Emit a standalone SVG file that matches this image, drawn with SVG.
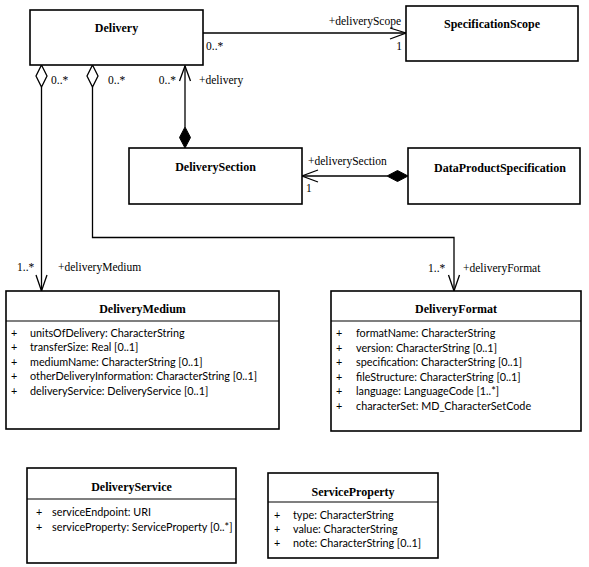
<svg xmlns="http://www.w3.org/2000/svg" width="589" height="567" viewBox="0 0 589 567">
<style>
.box{fill:#fff;stroke:#000;stroke-width:1.6}
.sep{stroke:#000;stroke-width:1.2}
.title{font-family:"Liberation Serif","DejaVu Serif",serif;font-weight:bold;font-size:12px;text-anchor:middle;fill:#000}
.attr{font-family:Lato,"Liberation Sans",sans-serif;font-size:10.8px;fill:#000}
.lbl{font-family:"Liberation Serif","DejaVu Serif",serif;font-size:11.5px;fill:#000}
.line{fill:none;stroke:#000;stroke-width:1.3}
.open{fill:none;stroke:#000;stroke-width:1.3}
.hd{fill:#fff;stroke:#000;stroke-width:1.3}
.fd{fill:#000;stroke:#000;stroke-width:1}
</style>
<g id="connectors">
  <!-- Delivery -> SpecificationScope -->
  <line class="line" x1="203" y1="33" x2="406" y2="33"/>
  <polyline class="open" points="390,28 406,33 390,39"/>
  <text class="lbl" x="401" y="25" text-anchor="end">+deliveryScope</text>
  <text class="lbl" x="402" y="50" text-anchor="end">1</text>
  <text class="lbl" x="206" y="50">0..*</text>
  <!-- Delivery -> DeliveryMedium -->
  <polygon class="hd" points="41.5,65 47,76 41.5,87 36,76"/>
  <line class="line" x1="41.5" y1="87" x2="41.5" y2="291"/>
  <polyline class="open" points="36,275 41.5,291 47,275"/>
  <text class="lbl" x="51" y="84">0..*</text>
  <text class="lbl" x="17" y="271">1..*</text>
  <text class="lbl" x="58" y="271">+deliveryMedium</text>
  <!-- Delivery -> DeliveryFormat -->
  <polygon class="hd" points="92.5,65 98,76 92.5,87 87,76"/>
  <polyline class="line" points="92.5,87 92.5,237.5 454,237.5 454,291"/>
  <polyline class="open" points="448.5,275 454,291 459.5,275"/>
  <text class="lbl" x="108" y="84">0..*</text>
  <text class="lbl" x="428" y="272">1..*</text>
  <text class="lbl" x="463" y="272">+deliveryFormat</text>
  <!-- DeliverySection -> Delivery -->
  <line class="line" x1="185" y1="66" x2="185" y2="127"/>
  <polyline class="open" points="179.5,81 185,66 190.5,81"/>
  <polygon class="fd" points="185,127 190.5,137.5 185,148 179.5,137.5"/>
  <text class="lbl" x="176" y="84" text-anchor="end">0..*</text>
  <text class="lbl" x="199" y="84">+delivery</text>
  <!-- DataProductSpecification -> DeliverySection -->
  <line class="line" x1="302" y1="176" x2="387" y2="176"/>
  <polyline class="open" points="318,170 302,176 318,182"/>
  <polygon class="fd" points="387,176 397.5,170.5 408,176 397.5,181.5"/>
  <text class="lbl" x="308" y="165">+deliverySection</text>
  <text class="lbl" x="306" y="192">1</text>
</g>
<g id="Delivery">
  <rect class="box" x="30" y="10" width="173" height="55"/>
  <text class="title" x="116.5" y="32">Delivery</text>
</g>
<g id="SpecificationScope">
  <rect class="box" x="406" y="6" width="172" height="55"/>
  <text class="title" x="492" y="28">SpecificationScope</text>
</g>
<g id="DeliverySection">
  <rect class="box" x="129" y="148" width="173" height="56"/>
  <text class="title" x="215.5" y="171">DeliverySection</text>
</g>
<g id="DataProductSpecification">
  <rect class="box" x="408" y="148" width="172" height="56"/>
  <text class="title" x="500" y="172">DataProductSpecification</text>
</g>
<g id="DeliveryMedium">
  <rect class="box" x="6" y="291" width="273" height="138"/>
  <line class="sep" x1="6" y1="321" x2="279" y2="321"/>
  <text class="title" x="142.5" y="313">DeliveryMedium</text>
  <g class="attr">
    <text x="11" y="336.5">+</text><text x="30" y="336.5">unitsOfDelivery: CharacterString</text>
    <text x="11" y="351">+</text><text x="30" y="351">transferSize: Real [0..1]</text>
    <text x="11" y="365.5">+</text><text x="30" y="365.5">mediumName: CharacterString [0..1]</text>
    <text x="11" y="380">+</text><text x="30" y="380">otherDeliveryInformation: CharacterString [0..1]</text>
    <text x="11" y="394.5">+</text><text x="30" y="394.5">deliveryService: DeliveryService [0..1]</text>
  </g>
</g>
<g id="DeliveryFormat">
  <rect class="box" x="331" y="291" width="250" height="140"/>
  <line class="sep" x1="331" y1="321" x2="581" y2="321"/>
  <text class="title" x="456" y="313">DeliveryFormat</text>
  <g class="attr">
    <text x="336" y="337">+</text><text x="356" y="337">formatName: CharacterString</text>
    <text x="336" y="351.5">+</text><text x="356" y="351.5">version: CharacterString [0..1]</text>
    <text x="336" y="366">+</text><text x="356" y="366">specification: CharacterString [0..1]</text>
    <text x="336" y="380.5">+</text><text x="356" y="380.5">fileStructure: CharacterString [0..1]</text>
    <text x="336" y="395">+</text><text x="356" y="395">language: LanguageCode [1..*]</text>
    <text x="336" y="409.5">+</text><text x="356" y="409.5">characterSet: MD_CharacterSetCode</text>
  </g>
</g>
<g id="DeliveryService">
  <rect class="box" x="27" y="468" width="209" height="95"/>
  <line class="sep" x1="27" y1="499" x2="236" y2="499"/>
  <text class="title" x="131.5" y="491">DeliveryService</text>
  <g class="attr">
    <text x="36" y="515.5">+</text><text x="52" y="515.5">serviceEndpoint: URI</text>
    <text x="36" y="530.5">+</text><text x="52" y="530.5">serviceProperty: ServiceProperty [0..*]</text>
  </g>
</g>
<g id="ServiceProperty">
  <rect class="box" x="268" y="473" width="170" height="85"/>
  <line class="sep" x1="268" y1="502" x2="438" y2="502"/>
  <text class="title" x="353" y="496">ServiceProperty</text>
  <g class="attr">
    <text x="274" y="519">+</text><text x="293" y="519">type: CharacterString</text>
    <text x="274" y="533">+</text><text x="293" y="533">value: CharacterString</text>
    <text x="274" y="547">+</text><text x="293" y="547">note: CharacterString [0..1]</text>
  </g>
</g>
</svg>
